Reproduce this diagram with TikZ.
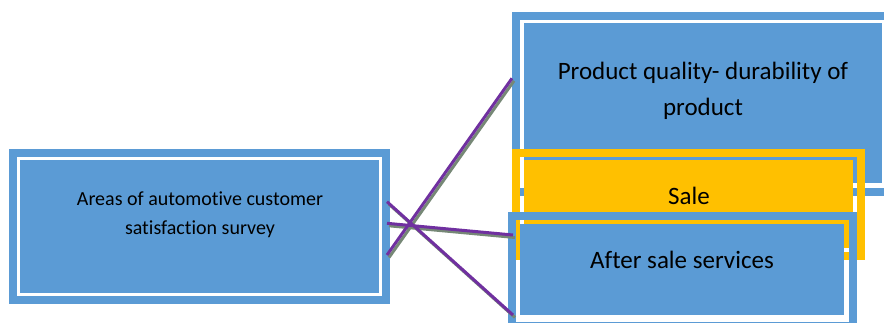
\documentclass[tikz,border=0pt]{standalone}
\usepackage{fontspec}
\setmainfont{Carlito}[Ligatures={NoCommon}]
\definecolor{boxblue}{RGB}{91,155,213}
\definecolor{boxgold}{RGB}{255,192,0}
\definecolor{linkpurple}{RGB}{112,48,160}
\definecolor{linkshade}{RGB}{118,136,118}
\tikzset{
  frame/.style={draw=#1, line width=8pt, inner sep=0pt, outer sep=0pt, fill=none},
  panel/.style={fill=#1, inner sep=0pt, outer sep=0pt},
  bigtxt/.style={font=\fontsize{25}{36}\selectfont, text=black, inner sep=0pt, anchor=base},
  smalltxt/.style={font=\fontsize{20}{29}\selectfont, text=black, inner sep=0pt, anchor=base},
  linkshadow/.style={draw=linkshade, line width=3pt, transform canvas={shift={(2pt,-2.5pt)}}},
  link/.style={draw=linkpurple, line width=3pt}
}
\begin{document}
\begin{tikzpicture}[x=1pt, y=-1pt]
\useasboundingbox (0,0) rectangle (884,322);
\clip (0,0) rectangle (884,322);

% upper right box: product quality
\node[frame=boxblue, minimum width=373pt, minimum height=176pt] (qf) at (702.5,104) {};
\node[panel=boxblue, minimum width=358pt, minimum height=160pt] (qp) at (703,103) {};
\node[bigtxt] (q1) at (703,79) {Product quality- durability of};
\node[bigtxt] (q2) at (703,115) {product};

% middle right box: sale
\node[panel=boxgold, minimum width=329pt, minimum height=88pt] (sp) at (688.5,204) {};
\node[frame=boxgold, minimum width=345pt, minimum height=103pt] (sf) at (688.5,204.5) {};
\node[bigtxt] (s1) at (689,204) {Sale};

% lower right box: after sale services
\node[panel=boxblue, minimum width=324pt, minimum height=91pt] (ap) at (682,269.5) {};
\node[frame=boxblue, minimum width=341pt, minimum height=110pt] (af) at (682.5,271) {};
\node[bigtxt] (a1) at (682,268) {After sale services};

% left box: survey areas
\node[frame=boxblue, minimum width=373pt, minimum height=147pt] (lf) at (199.5,226.5) {};
\node[panel=boxblue, minimum width=359pt, minimum height=133pt] (lp) at (199.5,226.5) {};
\node[smalltxt] (l1) at (200,205) {Areas of automotive customer};
\node[smalltxt] (l2) at (200,234) {satisfaction survey};

% connectors with their drop shadows
\foreach \s in {linkshadow, link} {
  \draw[\s] ([xshift=1pt, yshift=-28.5pt]lf.east) -- ([xshift=-4pt, yshift=25.7pt]qf.west);
  \draw[\s] ([xshift=1pt, yshift=24.8pt]lf.east) -- ([xshift=1pt, yshift=-44pt]af.west);
  \draw[\s] ([xshift=1pt, yshift=3.2pt]lf.east) -- ([xshift=1pt, yshift=36pt]af.west);
}
\end{tikzpicture}
\end{document}
